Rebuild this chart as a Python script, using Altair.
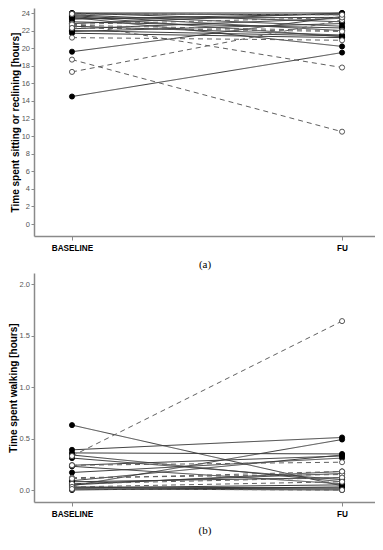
import altair as alt
import pandas as pd

# ---------- Panel (a): time spent sitting or reclining [hours] ----------
sit_solid_base = [14.5, 19.6, 23.5, 24.0, 23.9, 23.8, 23.6, 23.3, 23.0, 22.8, 22.5, 22.2, 21.9, 21.7, 24.0, 23.7, 23.4, 22.0]
sit_solid_fu   = [19.5, 23.6, 20.2, 24.0, 23.8, 22.5, 21.3, 23.9, 22.3, 24.0, 21.5, 23.4, 22.8, 21.2, 23.0, 22.0, 23.5, 21.4]
sit_dash_base  = [18.7, 17.3, 21.2, 22.8, 22.6, 22.7, 23.9, 22.3]
sit_dash_fu    = [10.5, 23.2, 20.9, 17.8, 22.0, 23.5, 23.8, 21.9]

# ---------- Panel (b): time spent walking [hours] ----------
walk_solid_base = [0.63, 0.39, 0.36, 0.34, 0.31, 0.24, 0.23, 0.17, 0.09, 0.06, 0.04, 0.03, 0.02, 0.01, 0.00, 0.08, 0.02, 0.05]
walk_solid_fu   = [0.04, 0.51, 0.35, 0.08, 0.10, 0.33, 0.06, 0.31, 0.34, 0.16, 0.49, 0.02, 0.01, 0.00, 0.03, 0.12, 0.05, 0.18]
walk_dash_base  = [0.33, 0.24, 0.12, 0.11, 0.06, 0.03, 0.01]
walk_dash_fu    = [1.64, 0.27, 0.15, 0.18, 0.12, 0.08, 0.00]

time_labels = ["BASELINE", "FU"]
groups = ["solid", "dashed"]
sit_ticks = [0, 2, 4, 6, 8, 10, 12, 14, 16, 18, 20, 22, 24]
walk_ticks = [0.0, 0.5, 1.0, 1.5, 2.0]


def long_df(solid_b, solid_f, dash_b, dash_f):
    rows = []
    pid = 0
    for grp, bl, fu in [("solid", solid_b, solid_f), ("dashed", dash_b, dash_f)]:
        for b, f in zip(bl, fu):
            rows.append({"id": pid, "grp": grp, "t": 0, "v": b})
            rows.append({"id": pid, "grp": grp, "t": 1, "v": f})
            pid += 1
    return pd.DataFrame(rows)


def panel(df, ydomain, yvals, yfmt, ytitle, caption, height):
    x = alt.X(
        "t:Q",
        scale=alt.Scale(domain=[-0.1407, 1.122], nice=False, zero=False),
        axis=alt.Axis(
            values=[0, 1],
            labelExpr=f"datum.value == 0 ? '{time_labels[0]}' : '{time_labels[1]}'",
            title=caption,
            titleFont="Liberation Serif",
            titleFontWeight="normal",
            titleFontSize=11,
            titleColor="#000000",
            titlePadding=7.5,
            labelFontWeight="bold",
            labelFontSize=8.2,
            labelColor="#000000",
            labelPadding=4,
            tickSize=4,
        ),
    )
    y = alt.Y(
        "v:Q",
        scale=alt.Scale(domain=ydomain, nice=False, zero=False),
        axis=alt.Axis(
            values=yvals,
            format=yfmt,
            title=ytitle,
            titleFontWeight="bold",
            titleFontSize=10,
            titleColor="#000000",
            titlePadding=1,
            labelFontSize=7.5,
            labelColor="#555555",
            labelPadding=1.5,
            tickSize=3,
        ),
    )
    base = alt.Chart(df)
    lines = base.mark_line(strokeWidth=1).encode(
        x=x,
        y=y,
        detail="id:N",
        color=alt.Color("grp:N", scale=alt.Scale(domain=groups, range=["#3a3a3a", "#606060"]), legend=None),
        strokeDash=alt.StrokeDash("grp:N", scale=alt.Scale(domain=groups, range=[[1, 0], [5, 4]]), legend=None),
    )
    points = base.mark_point(shape="circle", filled=True, size=26, strokeWidth=0.9, opacity=1).encode(
        x=x,
        y=y,
        fill=alt.Fill("grp:N", scale=alt.Scale(domain=groups, range=["#000000", "#ffffff"]), legend=None),
        stroke=alt.Stroke("grp:N", scale=alt.Scale(domain=groups, range=["#000000", "#444444"]), legend=None),
    )
    return alt.layer(lines, points).properties(width=341, height=height)


df_sit = long_df(sit_solid_base, sit_solid_fu, sit_dash_base, sit_dash_fu)
df_walk = long_df(walk_solid_base, walk_solid_fu, walk_dash_base, walk_dash_fu)

pa = panel(df_sit, [-1.365, 24.57], sit_ticks, "d", "Time spent sitting or reclining [hours]", "(a)", 228)
pb = panel(df_walk, [-0.1165, 2.107], walk_ticks, ".1f", "Time spent walking [hours]", "(b)", 229)

chart = (
    alt.vconcat(pa, pb, spacing=3)
    .properties(padding={"left": 0, "top": 0, "right": 0, "bottom": 0}, background="#ffffff")
    .configure_view(strokeWidth=0)
    .configure_axis(
        grid=False,
        domainColor="#8a8a8a",
        domainWidth=1.5,
        tickColor="#8a8a8a",
        tickWidth=1,
        labelFont="Liberation Sans",
        titleFont="Liberation Sans",
    )
)

chart.save("out.html", embed_options={"renderer": "svg", "actions": False})
